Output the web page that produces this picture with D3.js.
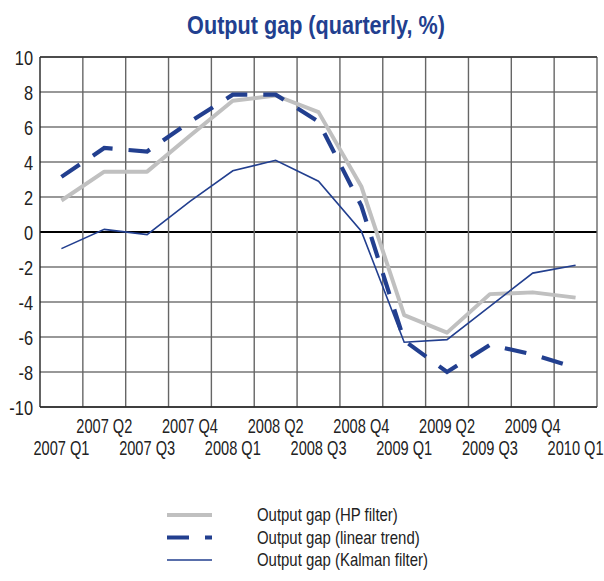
<!DOCTYPE html>
<html>
<head>
<meta charset="utf-8">
<script src="https://cdn.jsdelivr.net/npm/d3@7"></script>
<style>
  html, body { margin: 0; padding: 0; background: #fff; }
  svg { display: block; }
  text { font-family: "Liberation Sans", Arial, sans-serif; fill: #222; }
</style>
</head>
<body>
<svg id="chart" width="604" height="581"></svg>
<script>
const categories = ["2007 Q1","2007 Q2","2007 Q3","2007 Q4","2008 Q1","2008 Q2","2008 Q3","2008 Q4","2009 Q1","2009 Q2","2009 Q3","2009 Q4","2010 Q1"];
const hpFilter = [1.8, 3.45, 3.45, 5.5, 7.5, 7.8, 6.85, 2.6, -4.75, -5.75, -3.55, -3.45, -3.75];
const linearTrend = [3.15, 4.8, 4.6, 6.3, 7.85, 7.85, 6.3, 1.5, -6.2, -8.0, -6.45, -7.0, -7.75];
const kalmanFilter = [-0.95, 0.15, -0.15, 1.75, 3.5, 4.1, 2.9, 0.05, -6.3, -6.15, -4.25, -2.35, -1.9];
const yTicks = [-10, -8, -6, -4, -2, 0, 2, 4, 6, 8, 10];
const seriesNames = ["Output gap (HP filter)", "Output gap (linear trend)", "Output gap (Kalman filter)"];
const title = "Output gap (quarterly, %)";

const svg = d3.select("#chart");
const L = 40, R = 597, T = 57, B = 407;
const blue = "#223f8f", gray = "#c0c0c0";

const x = d3.scaleBand().domain(categories).range([L, R]).padding(0);
const y = d3.scaleLinear().domain([-10, 10]).range([B, T]);
const cx = c => x(c) + x.bandwidth() / 2;

// horizontal gridlines
svg.append("g").selectAll("line").data(yTicks).join("line")
  .attr("x1", L).attr("x2", R)
  .attr("y1", d => y(d)).attr("y2", d => y(d))
  .attr("stroke", d => d === 0 ? "#000" : "#333")
  .attr("stroke-width", d => d === 0 ? 2 : 1.2);

// vertical gridlines (band edges)
const edges = categories.map(c => x(c)).concat([R]);
svg.append("g").selectAll("line").data(edges).join("line")
  .attr("x1", d => d).attr("x2", d => d)
  .attr("y1", T).attr("y2", B)
  .attr("stroke", (d, i) => (i === 0) ? "#222" : "#666")
  .attr("stroke-width", 1.4);

svg.append("line").attr("x1", L).attr("x2", R).attr("y1", T).attr("y2", T).attr("stroke", "#333").attr("stroke-width", 1.4);
svg.append("line").attr("x1", L).attr("x2", R).attr("y1", B).attr("y2", B).attr("stroke", "#222").attr("stroke-width", 1.6);

// y tick labels
svg.append("g").selectAll("text").data(yTicks).join("text")
  .attr("transform", d => `translate(33,${y(d)}) scale(0.78,1)`)
  .attr("dy", "0.36em")
  .attr("text-anchor", "end").attr("font-size", 21)
  .text(d => d);

// x labels (staggered)
svg.append("g").selectAll("text").data(categories).join("text")
  .attr("transform", (d, i) => `translate(${cx(d)},${i % 2 === 0 ? 455 : 433}) scale(0.73,1)`)
  .attr("text-anchor", "middle").attr("font-size", 20)
  .text(d => d);

const line = d3.line().x((d, i) => cx(categories[i])).y(d => y(d));

svg.append("path").datum(hpFilter).attr("d", line)
  .attr("fill", "none").attr("stroke", gray).attr("stroke-width", 4).attr("stroke-linejoin", "round");
svg.append("path").datum(linearTrend).attr("d", line)
  .attr("fill", "none").attr("stroke", blue).attr("stroke-width", 4.2)
  .attr("stroke-dasharray", "22,16");
svg.append("path").datum(kalmanFilter).attr("d", line)
  .attr("fill", "none").attr("stroke", blue).attr("stroke-width", 1.6);

// title
svg.append("text").attr("transform", "translate(316,34) scale(0.865,1)").attr("text-anchor", "middle")
  .attr("font-size", 25).attr("font-weight", "bold").style("fill", blue)
  .text(title);

// legend
const legendStyles = [
  {stroke: gray, width: 4, dash: null},
  {stroke: blue, width: 4.2, dash: "22,16"},
  {stroke: blue, width: 1.6, dash: null}
];
const lg = svg.append("g");
seriesNames.forEach((name, i) => {
  const yy = 515 + i * 22.5;
  lg.append("line").attr("x1", 167).attr("x2", 212).attr("y1", yy).attr("y2", yy)
    .attr("stroke", legendStyles[i].stroke).attr("stroke-width", legendStyles[i].width)
    .attr("stroke-dasharray", legendStyles[i].dash);
  lg.append("text").attr("transform", `translate(257,${yy}) scale(0.83,1)`).attr("dy", "0.36em")
    .attr("font-size", 18).text(name);
});
</script>
</body>
</html>
